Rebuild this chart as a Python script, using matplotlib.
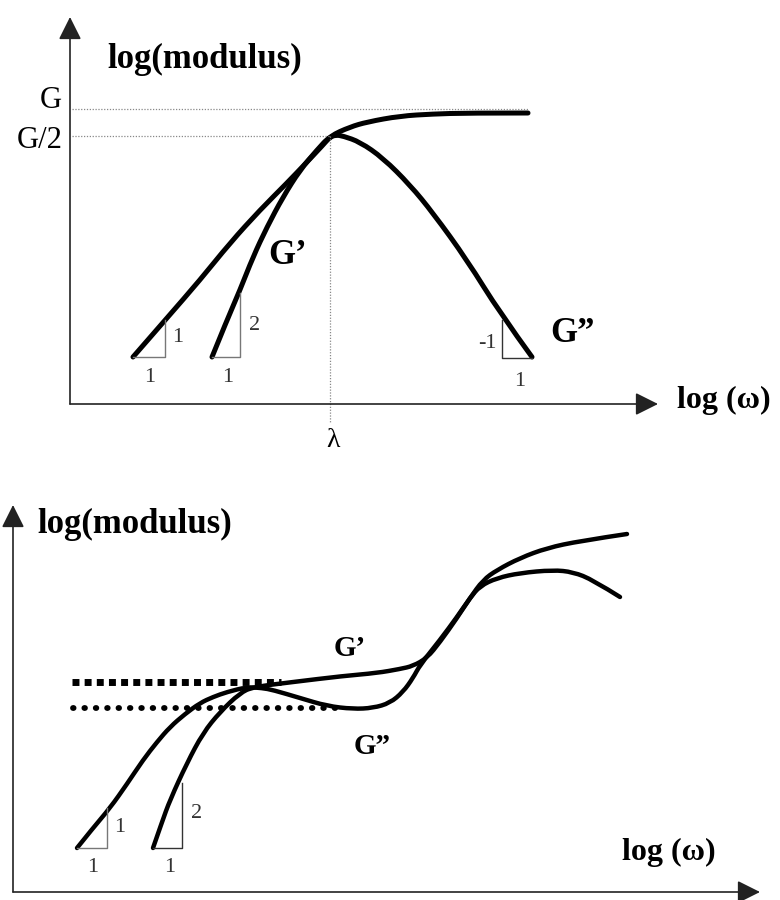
import matplotlib.pyplot as plt
from matplotlib.path import Path
from matplotlib.patches import PathPatch

plt.rcParams['font.family'] = ['Liberation Serif', 'DejaVu Serif']

# ---- top panel (Maxwell model), units: offset from the axes origin
gp_top_x = [142, 157, 170, 183, 197, 213, 230, 247, 260, 280, 297, 330, 363, 397, 458]
gp_top_y = [47, 84, 114, 147, 177, 207, 234, 254, 268, 277, 282, 288, 290, 291, 291]
gpp_top_x = [63, 97, 130, 160, 190, 217, 237, 253, 260, 266, 273, 290, 313, 340, 363, 397, 430, 462]
gpp_top_y = [47, 86, 124, 161, 194, 221, 242, 259, 267, 269, 268, 262, 246, 219, 191, 144, 91, 47]
G_level = 295
G_half = 268
lam = 260

# ---- bottom panel (polymer melt)
gpp_bot_x = [64, 80, 97, 114, 130, 144, 157, 172, 187, 200, 214, 234, 249, 260, 287, 314, 340, 360,
             377, 390, 400, 407, 427, 444, 457, 467, 484, 507, 540, 560, 580, 607]
gpp_bot_y = [44, 64, 84, 108, 132, 150, 165, 178, 189, 195, 200, 205, 204, 202, 194, 186, 183, 184,
             189, 200, 214, 227, 252, 275, 294, 306, 314, 319, 322, 320, 312, 295]
gp_bot_x = [140, 149, 157, 174, 190, 207, 227, 240, 280, 330, 364, 387, 400, 414, 427, 444, 457,
            470, 484, 507, 534, 567, 614]
gp_bot_y = [44, 70, 92, 129, 159, 180, 199, 205, 210, 216, 219, 223, 226, 234, 250, 274, 294,
            312, 322, 334, 344, 351, 358]
plateau_hi = 210
plateau_lo = 184

fig = plt.figure(figsize=(7.8, 9), dpi=100)
ax1 = fig.add_axes([0, 440 / 900, 1, 460 / 900])
ax2 = fig.add_axes([0, 0, 1, 440 / 900])
ax1.set_xlim(-70, 710)
ax1.set_ylim(-56, 404)
ax2.set_xlim(-13, 767)
ax2.set_ylim(-8, 432)
for ax in (ax1, ax2):
    ax.axis('off')


def curve(ax, xs, ys, lw):
    # quadratic bezier pieces through the read points, drawn by matplotlib
    pts = list(zip(xs, ys))
    verts = [pts[0]]
    codes = [Path.MOVETO]
    n = len(pts)
    for i in range(1, n - 1):
        if i == n - 2:
            end = pts[i + 1]
        else:
            end = ((pts[i][0] + pts[i + 1][0]) / 2, (pts[i][1] + pts[i + 1][1]) / 2)
        verts += [pts[i], end]
        codes += [Path.CURVE3, Path.CURVE3]
    ax.add_patch(PathPatch(Path(verts, codes), fill=False, lw=lw, edgecolor='black',
                           capstyle='round', joinstyle='round'))


def arrow(ax, x0, y0, x1, y1):
    ax.annotate('', xy=(x1, y1), xytext=(x0, y0),
                arrowprops=dict(arrowstyle='-|>,head_length=0.7,head_width=0.35',
                                lw=1.2, color='#222', mutation_scale=20,
                                shrinkA=0, shrinkB=0))


def triangle(ax, x0, x1, y0, y1, color='#777'):
    ax.plot([x0, x1, x1], [y0, y0, y1], color=color, lw=1)


thin = dict(color='#888', lw=0.9, linestyle=(0, (1, 1.3)))
num = dict(fontsize=16, color='#333')
bold = dict(fontweight='bold', color='black')

# top panel
arrow(ax1, 0, 0, 0, 387)
arrow(ax1, 0, 0, 588, 0)
ax1.plot([2, 458], [G_level, G_level], **thin)
ax1.plot([2, lam], [G_half, G_half], **thin)
ax1.plot([lam, lam], [G_half, -18], **thin)
curve(ax1, gp_top_x, gp_top_y, 3.6)
curve(ax1, gpp_top_x, gpp_top_y, 3.6)
triangle(ax1, 63, 95, 47, 84)
triangle(ax1, 142, 170, 47, 111)
ax1.plot([462, 432, 432], [46, 46, 84], color='#333', lw=1)

ax1.text(37, 336, 'log(modulus)', fontsize=25, va='baseline', **bold)
ax1.text(-8, 296, 'G', fontsize=22, ha='right', va='baseline')
ax1.text(-7, 256, 'G/2', fontsize=22, ha='right', va='baseline')
ax1.text(lam + 3, -43, '\u03bb', fontsize=20, ha='center', va='baseline')
ax1.text(607, -4, 'log (\u03c9)', fontsize=23, va='baseline', **bold)
ax1.text(218, 149, 'G\u2019', fontsize=25, ha='center', va='center', **bold)
ax1.text(502, 71, 'G\u201d', fontsize=25, ha='center', va='center', **bold)
ax1.text(108, 66, '1', ha='center', va='center', **num)
ax1.text(80, 26, '1', ha='center', va='center', **num)
ax1.text(185, 79, '2', ha='center', va='center', **num)
ax1.text(158, 26, '1', ha='center', va='center', **num)
ax1.text(427, 61, '-1', ha='right', va='center', **num)
ax1.text(450, 22, '1', ha='center', va='center', **num)

# bottom panel
arrow(ax2, 0, 0, 0, 387)
arrow(ax2, 0, 0, 747, 0)
ax2.plot([59, 268], [plateau_hi, plateau_hi], color='black', lw=5,
         linestyle=(0, (1, 0.75)), dash_capstyle='butt')
ax2.plot([60, 329], [plateau_lo, plateau_lo], color='black', lw=4.2,
         linestyle=(0, (0.1, 1.85)), dash_capstyle='round')
curve(ax2, gpp_bot_x, gpp_bot_y, 3.2)
curve(ax2, gp_bot_x, gp_bot_y, 3.2)
triangle(ax2, 64, 94, 44, 84)
triangle(ax2, 140, 169, 44, 109, color='#333')

ax2.text(24, 359, 'log(modulus)', fontsize=25, va='baseline', **bold)
ax2.text(609, 32, 'log (\u03c9)', fontsize=23, va='baseline', **bold)
ax2.text(337, 243, 'G\u2019', fontsize=21, ha='center', va='center', **bold)
ax2.text(359, 145, 'G\u201d', fontsize=21, ha='center', va='center', **bold)
ax2.text(107, 65, '1', ha='center', va='center', **num)
ax2.text(80, 24, '1', ha='center', va='center', **num)
ax2.text(184, 79, '2', ha='center', va='center', **num)
ax2.text(157, 24, '1', ha='center', va='center', **num)

fig.savefig('out.png', dpi=100)
